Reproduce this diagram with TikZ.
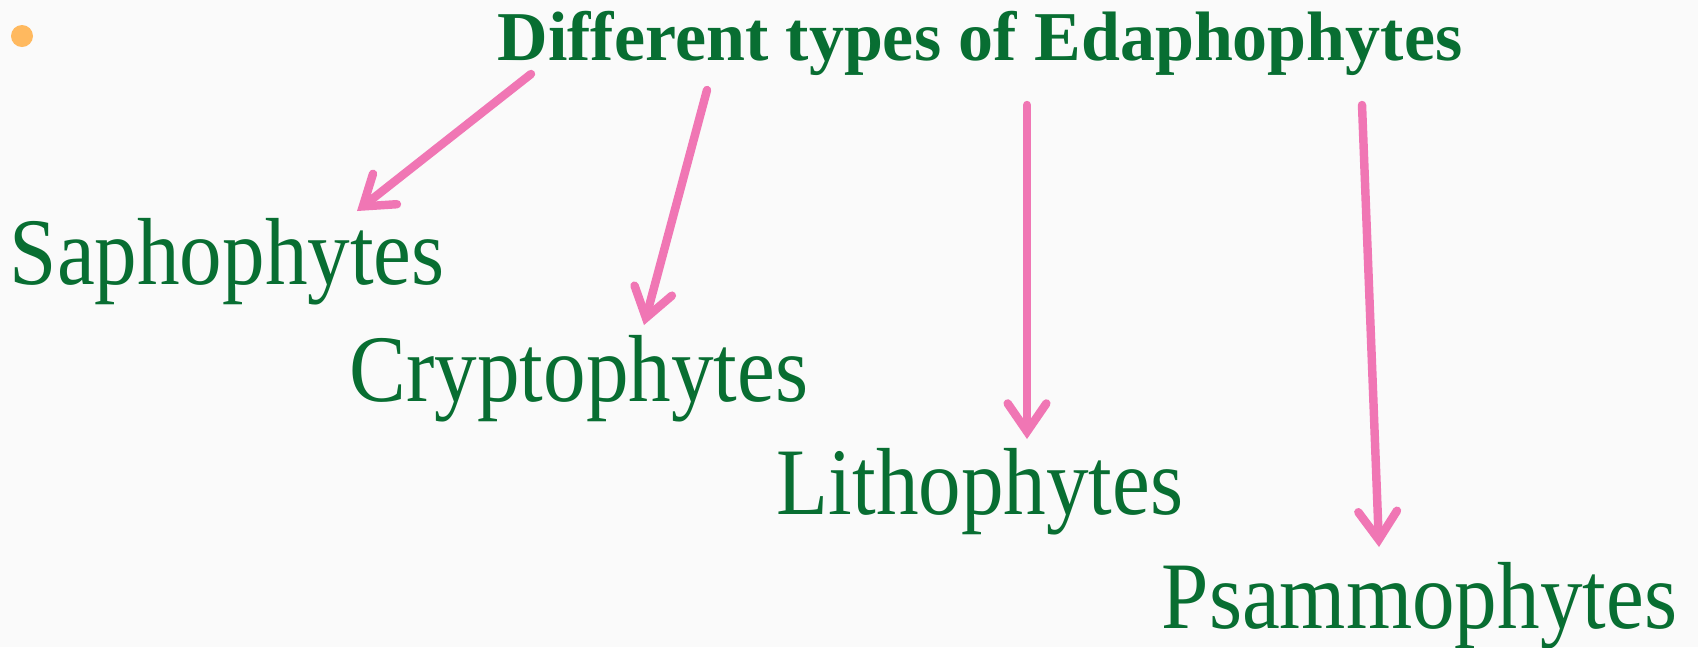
\documentclass[tikz,border=0pt]{standalone}
\usepackage{fontspec}
\setmainfont{Liberation Serif}
\usepackage{tikz}
\usetikzlibrary{arrows.meta}
\definecolor{EdaGreen}{RGB}{8,110,50}
\definecolor{EdaPink}{RGB}{240,118,180}
\definecolor{EdaOrange}{RGB}{255,185,95}
\definecolor{EdaPaper}{RGB}{250,250,250}
\tikzset{
  kind/.style={text=EdaGreen, anchor=base west, inner sep=0pt, font=\fontsize{24.2}{26}\selectfont, yscale=1.12, transform shape},
  pointer/.style={draw=EdaPink, line width=2.4pt, line cap=round, -{Straight Barb[length=8pt,width=11pt,line cap=round]}}
}
\begin{document}
\begin{tikzpicture}[x=0.01cm, y=-0.01cm]
        \fill[EdaPaper] (0,0) rectangle (1698,647);
        \useasboundingbox (0,0) rectangle (1698,647);
        \fill[EdaOrange] (22,36) circle (11);
        % heading
        \node[text=EdaGreen, anchor=base, inner sep=0pt, font=\fontsize{19.9}{22}\selectfont\bfseries] (title) at (980,60) {Different types of Edaphophytes};
        % the four kinds
        \node[kind] (sapro) at (9,284) {Saphophytes};
        \node[kind] (crypto) at (349,401) {Cryptophytes};
        \node[kind] (litho) at (776,514) {Lithophytes};
        \node[kind] (psammo) at (1161,628) {Psammophytes};
        % arrow ends
        \coordinate (s1) at (531,74);   \coordinate (e1) at (357,211);
        \coordinate (s2) at (707,90);   \coordinate (e2) at (644,325);
        \coordinate (s3) at (1027,105); \coordinate (e3) at (1027,439);
        \coordinate (s4) at (1362,105); \coordinate (e4) at (1379,547);
        \draw[pointer] (s1) -- (e1);
        \draw[pointer] (s2) -- (e2);
        \draw[pointer] (s3) -- (e3);
        \draw[pointer] (s4) -- (e4);
      \end{tikzpicture}
\end{document}
